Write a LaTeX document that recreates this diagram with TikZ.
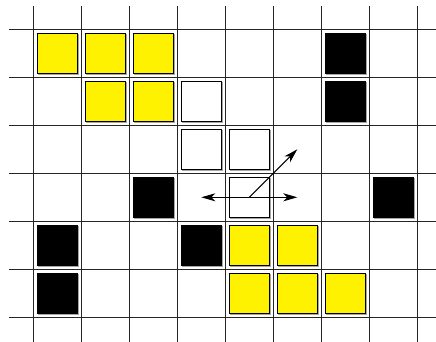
\documentclass[tikz,border=0pt]{standalone}
\usetikzlibrary{arrows.meta}
\begin{document}
\begin{tikzpicture}[x=1pt,y=-1pt,
  gridline/.style={line width=1pt,black!85},
  cellbox/.style={draw=black,line width=0.9pt,minimum size=39.5pt,inner sep=0pt,outer sep=0pt,
    preaction={draw=black!35,line width=1.4pt,transform canvas={shift={(0.8pt,-0.8pt)}}}},
  yel/.style={cellbox,fill=yellow},
  blk/.style={cellbox,fill=black},
  wht/.style={cellbox,fill=white},
  move/.style={line width=1pt,-{Stealth[length=14pt,width=8pt,inset=4pt]}}]
\useasboundingbox (0,0) rectangle (436,342);
\fill[white] (0,0) rectangle (436,342);
% grid
\foreach \i in {0,...,8} \draw[gridline] (33.3+48*\i,6) -- (33.3+48*\i,342);
\foreach \j in {0,...,6} \draw[gridline] (9,29.3+48*\j) -- (436,29.3+48*\j);
% cells: center of (col c,row r) = (57.3+48c, 53.3+48r)
\def\cx#1{57.3+48*#1}
% row 0
\node[yel] (y00) at (57.3,53.3) {};
\node[yel] (y10) at (105.3,53.3) {};
\node[yel] (y20) at (153.3,53.3) {};
\node[blk] (b60) at (345.3,53.3) {};
% row 1
\node[yel] (y11) at (105.3,101.3) {};
\node[yel] (y21) at (153.3,101.3) {};
\node[wht] (w31) at (201.3,101.3) {};
\node[blk] (b61) at (345.3,101.3) {};
% row 2
\node[wht] (w32) at (201.3,149.3) {};
\node[wht] (w42) at (249.3,149.3) {};
% row 3
\node[blk] (b23) at (153.3,197.3) {};
\node[wht] (w43) at (249.3,197.3) {};
\node[blk] (b73) at (393.3,197.3) {};
% row 4
\node[blk] (b04) at (57.3,245.3) {};
\node[blk] (b34) at (201.3,245.3) {};
\node[yel] (y44) at (249.3,245.3) {};
\node[yel] (y54) at (297.3,245.3) {};
% row 5
\node[blk] (b05) at (57.3,293.3) {};
\node[yel] (y45) at (249.3,293.3) {};
\node[yel] (y55) at (297.3,293.3) {};
\node[yel] (y65) at (345.3,293.3) {};
% arrows
\coordinate (c) at (w43.center);
\coordinate (west) at (201.3,197.3);
\coordinate (east) at (297.3,197.3);
\coordinate (ne) at (297.3,149.3);
\draw[move] (c) -- (west);
\draw[move] (c) -- (east);
\draw[move] (c) -- (ne);
\end{tikzpicture}
\end{document}
